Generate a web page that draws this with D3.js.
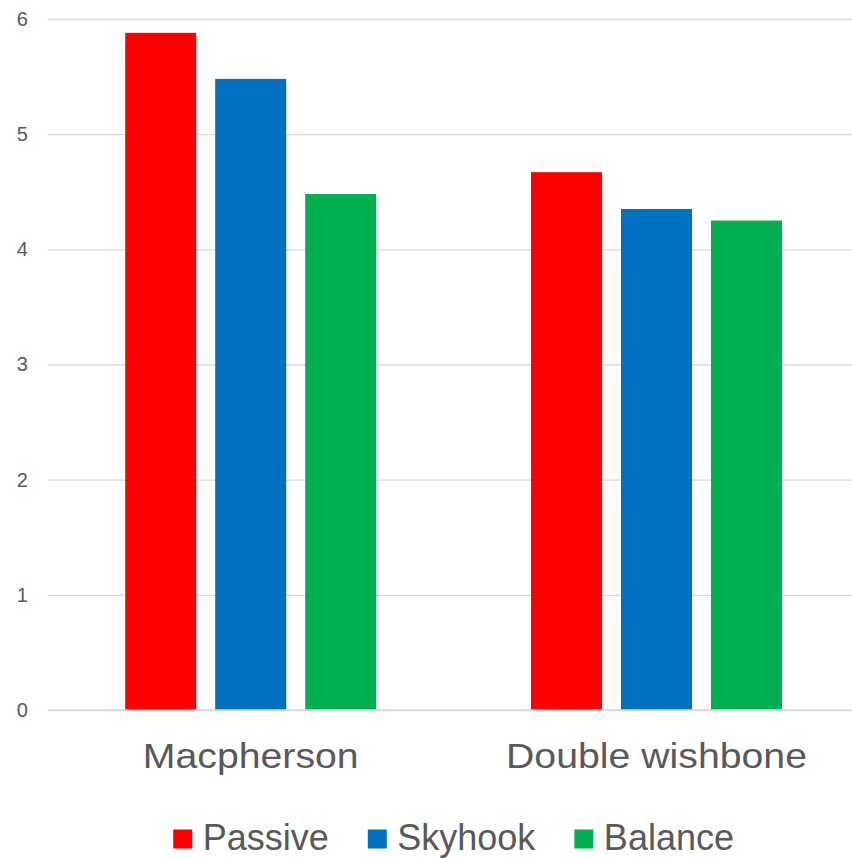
<!DOCTYPE html>
<html>
<head>
<meta charset="utf-8">
<script src="https://cdn.jsdelivr.net/npm/d3@7"></script>
<style>
  html, body { margin: 0; padding: 0; background: #fff; }
  svg { display: block; font-family: "Liberation Sans", Arial, sans-serif; }
</style>
</head>
<body>
<svg id="chart" width="852" height="858"></svg>
<script>
// Suspension types and controller results
const categories = ["Macpherson", "Double wishbone"];
const seriesNames = ["Passive", "Skyhook", "Balance"];
const seriesColors = ["#ff0000", "#0070c0", "#00b050"];
const passive = [5.88, 4.67];
const skyhook = [5.48, 4.35];
const balance = [4.48, 4.25];
const yTicks = [0, 1, 2, 3, 4, 5, 6];

const seriesValues = [passive, skyhook, balance];
const rows = categories.map((c, i) => ({
  category: c,
  values: seriesNames.map((s, j) => ({ series: s, value: seriesValues[j][i], color: seriesColors[j] }))
}));

const svg = d3.select("#chart");
const plot = { left: 47.8, right: 859.4, top: 19, bottom: 710 };
const textColor = "#595959";

const y = d3.scaleLinear().domain([0, 6]).range([plot.bottom, plot.top]);
const x0 = d3.scaleBand().domain(categories).range([plot.left, plot.right]);
const x1 = d3.scaleBand().domain(seriesNames).range([0, x0.bandwidth()])
  .paddingInner(19 / 90).paddingOuter(0.86);

// Horizontal gridlines with value labels
const yAxis = d3.axisLeft(y).tickValues(yTicks).tickSize(-(852 - plot.left)).tickPadding(20)
  .tickFormat(d3.format("d"));
const gy = svg.append("g").attr("transform", `translate(${plot.left},0)`).call(yAxis);
gy.select(".domain").remove();
gy.selectAll(".tick line").attr("stroke", "#d9d9d9").attr("stroke-width", 1.3);
gy.selectAll(".tick text").attr("fill", textColor).attr("font-size", 20)
  .attr("font-family", "Liberation Sans, Arial, sans-serif");

// Bars
const groups = svg.append("g").selectAll("g").data(rows).join("g")
  .attr("transform", d => `translate(${x0(d.category)},0)`);
groups.selectAll("rect").data(d => d.values).join("rect")
  .attr("x", d => x1(d.series))
  .attr("width", x1.bandwidth())
  .attr("y", d => y(d.value))
  .attr("height", d => y(0) - y(d.value))
  .attr("fill", d => d.color);

// Baseline
svg.append("line")
  .attr("x1", plot.left).attr("x2", 852)
  .attr("y1", y(0)).attr("y2", y(0))
  .attr("stroke", "#d9d9d9").attr("stroke-width", 1.3);

// Category labels
svg.append("g").selectAll("text").data(categories).join("text")
  .attr("transform", d => `translate(${x0(d) + x0.bandwidth() / 2},767.7) scale(1.09,1)`)
  .attr("text-anchor", "middle")
  .attr("font-size", 36)
  .attr("fill", textColor)
  .text(d => d);

// Legend, centred under the plot area
const legend = svg.append("g");
const items = legend.selectAll("g").data(seriesNames).join("g");
items.append("rect").attr("width", 19).attr("height", 19)
  .attr("y", 829.5).attr("fill", (d, i) => seriesColors[i]);
items.append("text").attr("x", 29.5).attr("y", 850.3)
  .attr("font-size", 36).attr("fill", textColor).text(d => d);
let cursor = 0;
const offsets = [];
items.each(function () {
  offsets.push(cursor);
  const w = d3.select(this).select("text").node().getComputedTextLength();
  cursor += 29.5 + w + 39;
});
const total = cursor - 39;
const start = (plot.left + plot.right) / 2 - total / 2;
items.attr("transform", (d, i) => `translate(${start + offsets[i]},0)`);
</script>
</body>
</html>
